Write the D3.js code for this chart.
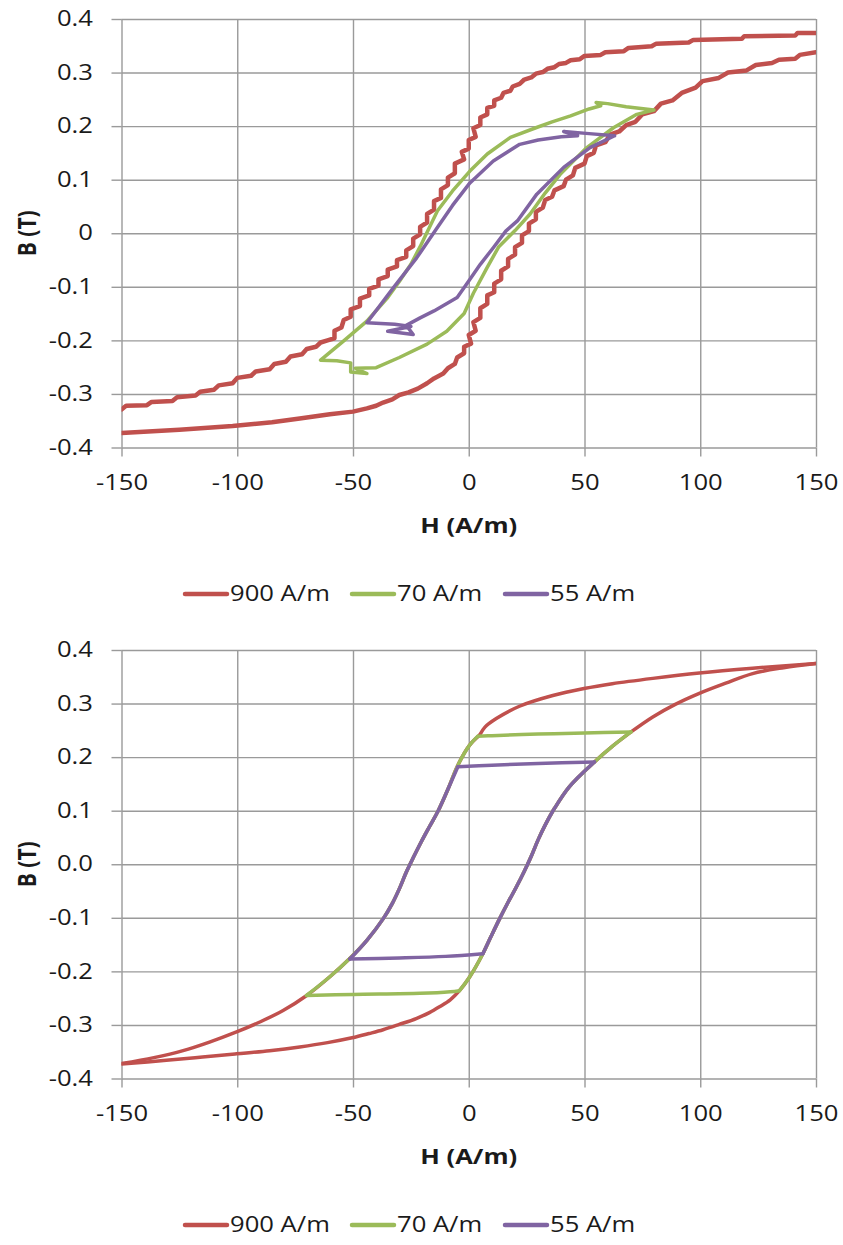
<!DOCTYPE html>
<html>
<head>
<meta charset="utf-8">
<script src="https://cdn.jsdelivr.net/npm/d3@7"></script>
<style>
  body { margin: 0; background: #fff; }
  text { font-family: "Open Sans", sans-serif; fill: #1a1a1a; }
</style>
</head>
<body>
<svg id="chart" width="843" height="1245"></svg>
<script>
// axis ticks
const xTicks = [-150, -100, -50, 0, 50, 100, 150];
const yTicks = [-0.4, -0.3, -0.2, -0.1, 0, 0.1, 0.2, 0.3, 0.4];
const seriesNames = ["900 A/m", "70 A/m", "55 A/m"];
const seriesColors = ["#C0504D", "#9BBB59", "#8064A2"];

// top chart (measured), [H, B]
const measured900Down = [[150,0.374],[142,0.374],[141,0.369],[119,0.368],[118,0.363],[97,0.361],[95,0.356],[81,0.354],[79,0.349],[69,0.346],[67,0.340],[59,0.338],[57,0.333],[50,0.331],[48,0.325],[44,0.323],[42,0.318],[39,0.316],[37,0.310],[34,0.307],[32,0.301],[29,0.298],[27,0.291],[24,0.287],[22,0.279],[19,0.274],[18,0.266],[15,0.262],[14,0.253],[11,0.248],[11,0.238],[8,0.234],[8,0.222],[5,0.216],[5,0.202],[2,0.196],[3,0.180],[0,0.174],[0,0.158],[-3,0.152],[-2,0.138],[-6,0.130],[-6,0.112],[-9,0.104],[-9,0.090],[-12,0.082],[-12,0.066],[-15,0.060],[-15,0.044],[-18,0.036],[-18,0.020],[-21,0.012],[-21,-0.002],[-24,-0.010],[-24,-0.024],[-27,-0.032],[-27,-0.044],[-31,-0.050],[-31,-0.062],[-35,-0.068],[-35,-0.080],[-39,-0.086],[-39,-0.098],[-43,-0.104],[-43,-0.116],[-47,-0.122],[-47,-0.136],[-51,-0.142],[-51,-0.156],[-54,-0.162],[-55,-0.176],[-58,-0.182],[-58,-0.196],[-61,-0.200],[-64,-0.204],[-66,-0.212],[-70,-0.216],[-72,-0.226],[-77,-0.230],[-79,-0.240],[-84,-0.244],[-86,-0.254],[-92,-0.258],[-94,-0.266],[-100,-0.270],[-102,-0.280],[-108,-0.284],[-110,-0.292],[-116,-0.296],[-118,-0.303],[-126,-0.306],[-128,-0.313],[-137,-0.315],[-139,-0.321],[-148,-0.322],[-150,-0.329]];
const measured900Up = [[-150,-0.373],[-125,-0.367],[-102,-0.360],[-85,-0.353],[-73,-0.346],[-60,-0.338],[-50,-0.333],[-44,-0.327],[-40,-0.322],[-37,-0.316],[-33,-0.310],[-30,-0.302],[-26,-0.297],[-22,-0.290],[-18,-0.280],[-15,-0.271],[-11,-0.262],[-9,-0.252],[-6,-0.244],[-5,-0.232],[-2,-0.224],[-2,-0.212],[1,-0.206],[0,-0.190],[3,-0.182],[2,-0.166],[5,-0.158],[5,-0.140],[8,-0.132],[8,-0.116],[11,-0.110],[11,-0.094],[14,-0.086],[14,-0.070],[17,-0.062],[17,-0.048],[20,-0.040],[20,-0.026],[23,-0.018],[23,-0.004],[26,0.004],[26,0.018],[29,0.026],[29,0.040],[32,0.048],[33,0.062],[36,0.068],[37,0.080],[41,0.088],[42,0.100],[45,0.108],[46,0.122],[50,0.130],[51,0.144],[54,0.150],[55,0.164],[59,0.170],[61,0.184],[65,0.190],[68,0.202],[72,0.208],[75,0.222],[80,0.228],[83,0.242],[88,0.248],[92,0.262],[98,0.272],[101,0.284],[108,0.290],[112,0.300],[120,0.304],[124,0.314],[131,0.318],[134,0.324],[141,0.326],[143,0.333],[150,0.338]];
const measured70 = [[80,0.230],[68,0.236],[60,0.242],[55,0.244],[57,0.238],[52,0.232],[44,0.219],[36,0.208],[29,0.197],[18,0.179],[8,0.148],[0.5,0.116],[-7,0.079],[-13.5,0.042],[-18,0.002],[-21,-0.025],[-25,-0.058],[-30,-0.090],[-35,-0.120],[-44,-0.164],[-54,-0.201],[-64,-0.237],[-57,-0.238],[-51,-0.242],[-51,-0.259],[-44,-0.262],[-49,-0.252],[-40,-0.251],[-30,-0.232],[-18,-0.207],[-9.5,-0.183],[-2,-0.150],[2,-0.112],[7.8,-0.065],[13,-0.025],[20,0.005],[26.5,0.036],[33,0.075],[39.5,0.110],[51,0.160],[62.5,0.197],[72.6,0.222],[80,0.230]];
const measured55 = [[63,0.182],[52,0.186],[41,0.190],[47,0.182],[40,0.180],[30,0.174],[22,0.166],[10.6,0.135],[0.5,0.094],[-7,0.052],[-14,0.008],[-22.5,-0.046],[-32.6,-0.102],[-44,-0.167],[-32,-0.170],[-25,-0.174],[-35,-0.183],[-24,-0.189],[-27,-0.172],[-21,-0.158],[-15,-0.145],[-5,-0.120],[0,-0.089],[5,-0.058],[10.6,-0.027],[16,0.004],[21,0.023],[29.4,0.073],[41,0.123],[52.4,0.160],[63,0.182]];

// bottom chart (model), [H, B], split into branches
const model900 = [
  [[150,0.375],[122.6,0.366],[99.6,0.357],[79.5,0.347],[62,0.337],[49.8,0.328],[36.3,0.315],[21.9,0.295],[11.9,0.272],[7,0.256],[4.7,0.241]],
  [[4.7,0.241],[0.3,0.222],[-4.7,0.185],[-9,0.140],[-13.3,0.099],[-17,0.070],[-20.5,0.042],[-24,0.012],[-27,-0.015],[-30,-0.046],[-33,-0.073],[-37,-0.102],[-44,-0.142],[-51.4,-0.176],[-60,-0.210],[-70,-0.245],[-80.2,-0.273],[-90,-0.294],[-100.3,-0.313],[-112,-0.332],[-123.4,-0.348],[-136,-0.361],[-150,-0.372]],
  [[-150,-0.373],[-130.6,-0.366],[-115,-0.360],[-100.3,-0.354],[-86,-0.348],[-73,-0.341],[-61,-0.333],[-50.4,-0.324],[-43,-0.316],[-37,-0.309],[-30,-0.299],[-22.7,-0.288],[-17,-0.277],[-12.6,-0.266],[-8,-0.253],[-4,-0.236],[0.3,-0.211],[6.1,-0.167],[9.5,-0.136],[13.3,-0.102],[17,-0.071],[20.5,-0.043],[24,-0.013],[27,0.015],[30,0.046],[33,0.073],[37,0.104],[43.5,0.145],[54.3,0.191],[62,0.220],[70.1,0.247]],
  [[70.1,0.247],[79.5,0.275],[89,0.298],[99.6,0.319],[111,0.338],[122.6,0.356],[136,0.367],[150,0.375]]
];
const model70 = [
  [[70.1,0.247],[50,0.245],[30,0.243],[10,0.240],[3.9,0.239]],
  [[3.9,0.239],[0.3,0.222],[-4.7,0.185],[-9,0.140],[-13.3,0.099],[-17,0.070],[-20.5,0.042],[-24,0.012],[-27,-0.015],[-30,-0.046],[-33,-0.073],[-37,-0.102],[-44,-0.142],[-51.4,-0.176],[-60,-0.210],[-70.1,-0.245]],
  [[-70.1,-0.245],[-50,-0.243],[-21,-0.241],[-8,-0.238],[-4,-0.236]],
  [[-4,-0.236],[0.3,-0.211],[6.1,-0.167],[9.5,-0.136],[13.3,-0.102],[17,-0.071],[20.5,-0.043],[24,-0.013],[27,0.015],[30,0.046],[33,0.073],[37,0.104],[43.5,0.145],[54.3,0.191],[62,0.220],[70.1,0.247]]
];
const model55 = [
  [[54.3,0.191],[30,0.188],[10,0.185],[-4.7,0.182]],
  [[-4.7,0.182],[-9,0.140],[-13.3,0.099],[-17,0.070],[-20.5,0.042],[-24,0.012],[-27,-0.015],[-30,-0.046],[-33,-0.073],[-37,-0.102],[-44,-0.142],[-51.4,-0.177]],
  [[-51.4,-0.177],[-30,-0.175],[-10,-0.172],[6.1,-0.167]],
  [[6.1,-0.167],[9.5,-0.136],[13.3,-0.102],[17,-0.071],[20.5,-0.043],[24,-0.013],[27,0.015],[30,0.046],[33,0.073],[37,0.104],[43.5,0.145],[54.3,0.191]]
];

const svg = d3.select("#chart");
const sx = 1.22; // text looks horizontally stretched in the reference
const plot = { left: 121.5, right: 816, height: 428.5 };

function drawChart(top, series, yFormat, curve, id) {
  let x = d3.scaleLinear().domain([-150, 150]).range([plot.left, plot.right]);
  let y = d3.scaleLinear().domain([-0.4, 0.4]).range([top + plot.height, top]);
  let w = plot.right - plot.left;
  let g = svg.append("g");

  // grid
  g.append("g")
    .attr("transform", `translate(0, ${y(-0.4)})`)
    .call(d3.axisBottom(x).tickValues(xTicks).tickSize(-plot.height).tickFormat(""));
  g.append("g")
    .attr("transform", `translate(${plot.left}, 0)`)
    .call(d3.axisLeft(y).tickValues(yTicks).tickSize(-w).tickFormat(""));

  // outside tick marks + labels
  g.append("g")
    .attr("transform", `translate(0, ${y(-0.4)})`)
    .call(d3.axisBottom(x).tickValues(xTicks).tickSize(9).tickPadding(18.5).tickFormat(d => String(d)));
  g.append("g")
    .attr("transform", `translate(${plot.left}, 0)`)
    .call(d3.axisLeft(y).tickValues(yTicks).tickSize(10).tickPadding(13.4).tickFormat(yFormat));

  g.selectAll(".domain").remove();
  g.selectAll(".tick line").attr("stroke", "#9a9a9a").attr("stroke-width", 1.4);
  g.selectAll(".tick text")
    .attr("font-size", 21)
    .attr("font-family", "Open Sans, sans-serif")
    .attr("fill", "#1a1a1a")
    .attr("transform", `scale(${sx},1)`);

  // curves
  svg.append("clipPath").attr("id", id)
    .append("rect").attr("x", plot.left).attr("y", top).attr("width", w).attr("height", plot.height);
  let line = d3.line().x(d => x(d[0])).y(d => y(d[1])).curve(curve);
  let lines = g.append("g").attr("clip-path", `url(#${id})`);
  series.forEach(s => {
    s.data.forEach(seg => {
      lines.append("path")
        .attr("d", line(seg))
        .attr("fill", "none")
        .attr("stroke", seriesColors[s.k])
        .attr("stroke-width", s.w)
        .attr("stroke-linejoin", "round")
        .attr("stroke-linecap", "round");
    });
  });

  // axis titles
  g.append("text")
    .attr("transform", `translate(${x(0)}, ${y(-0.4) + 85.5}) scale(${sx},1)`)
    .attr("text-anchor", "middle")
    .attr("font-size", 21)
    .attr("font-weight", "bold")
    .text("H (A/m)");
  g.append("text")
    .attr("transform", `translate(27, ${y(0)}) rotate(-90) scale(1,${sx})`)
    .attr("text-anchor", "middle")
    .attr("dy", "0.35em")
    .attr("font-size", 21)
    .attr("font-weight", "bold")
    .text("B (T)");

  // legend
  let legX = [185, 352, 505];
  let legY = top + 575;
  seriesNames.forEach((name, i) => {
    g.append("line")
      .attr("x1", legX[i]).attr("x2", legX[i] + 42)
      .attr("y1", legY).attr("y2", legY)
      .attr("stroke", seriesColors[i])
      .attr("stroke-width", 4.5)
      .attr("stroke-linecap", "round");
    g.append("text")
      .attr("transform", `translate(${legX[i] + 45}, ${legY}) scale(${sx},1)`)
      .attr("dy", "0.35em")
      .attr("font-size", 21)
      .text(name);
  });
}

drawChart(19, [
  { k: 0, data: [measured900Down, measured900Up], w: 4.5 },
  { k: 1, data: [measured70], w: 3.5 },
  { k: 2, data: [measured55], w: 3.5 }
], d => String(+d.toFixed(1)), d3.curveLinear, "clipTop");

drawChart(650, [
  { k: 0, data: model900, w: 3.5 },
  { k: 1, data: model70, w: 3.5 },
  { k: 2, data: model55, w: 3.5 }
], d => d.toFixed(1), d3.curveCatmullRom.alpha(0.5), "clipBottom");
</script>
</body>
</html>
